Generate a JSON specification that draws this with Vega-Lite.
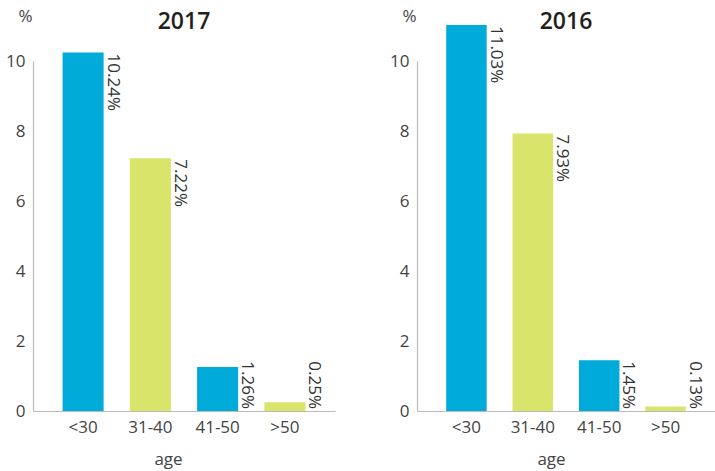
{
  "$schema": "https://vega.github.io/schema/vega-lite/v6.json",
  "padding": {"left": 5, "top": 7, "right": 0, "bottom": 10},
  "background": "white",
  "data": {"values": [
    {"year": "2017", "age": "<30", "pct": 10.24},
    {"year": "2017", "age": "31-40", "pct": 7.22},
    {"year": "2017", "age": "41-50", "pct": 1.26},
    {"year": "2017", "age": ">50", "pct": 0.25},
    {"year": "2016", "age": "<30", "pct": 11.03},
    {"year": "2016", "age": "31-40", "pct": 7.93},
    {"year": "2016", "age": "41-50", "pct": 1.45},
    {"year": "2016", "age": ">50", "pct": 0.13}
  ]},
  "spacing": 54,
  "hconcat": [
    {
      "title": {"text": "2017"},
      "width": 302, "height": 350,
      "transform": [{"filter": "datum.year == '2017'"}, {"calculate": "format(datum.pct, '.2f') + '%'", "as": "label"}],
      "encoding": {
        "x": {"field": "age", "type": "nominal", "sort": ["<30", "31-40", "41-50", ">50"], "scale": {"paddingInner": 0.39, "paddingOuter": 0.44}, "axis": {"title": "age", "labelAngle": 0, "titleX": 135}},
        "y": {"field": "pct", "type": "quantitative", "scale": {"domain": [0, 10], "nice": false}, "axis": {"title": "%", "values": [0, 2, 4, 6, 8, 10]}}
      },
      "layer": [
        {"mark": {"type": "bar"}, "encoding": {"color": {"field": "age", "type": "nominal", "scale": {"domain": ["<30", "31-40", "41-50", ">50"], "range": ["#00aad9", "#d9e46b", "#00aad9", "#d9e46b"]}, "legend": null}}},
        {"transform": [{"filter": "datum.pct >= 2"}],
         "mark": {"type": "text", "angle": 90, "align": "left", "baseline": "bottom", "fontSize": 17, "font": "Open Sans", "color": "#333", "dx": 1},
         "encoding": {"x": {"field": "age", "type": "nominal", "sort": ["<30", "31-40", "41-50", ">50"], "bandPosition": 1}, "text": {"field": "label"}}},
        {"transform": [{"filter": "datum.pct < 2"}],
         "mark": {"type": "text", "angle": 90, "align": "right", "baseline": "bottom", "fontSize": 17, "font": "Open Sans", "color": "#333", "dx": -2},
         "encoding": {"x": {"field": "age", "type": "nominal", "sort": ["<30", "31-40", "41-50", ">50"], "bandPosition": 1}, "y": {"datum": 0}, "text": {"field": "label"}}}
      ]
    },
    {
      "title": {"text": "2016"},
      "width": 298, "height": 350,
      "transform": [{"filter": "datum.year == '2016'"}, {"calculate": "format(datum.pct, '.2f') + '%'", "as": "label"}],
      "encoding": {
        "x": {"field": "age", "type": "nominal", "sort": ["<30", "31-40", "41-50", ">50"], "scale": {"paddingInner": 0.39, "paddingOuter": 0.44}, "axis": {"title": "age", "labelAngle": 0, "titleX": 134}},
        "y": {"field": "pct", "type": "quantitative", "scale": {"domain": [0, 10], "nice": false}, "axis": {"title": "%", "values": [0, 2, 4, 6, 8, 10]}}
      },
      "layer": [
        {"mark": {"type": "bar"}, "encoding": {"color": {"field": "age", "type": "nominal", "scale": {"domain": ["<30", "31-40", "41-50", ">50"], "range": ["#00aad9", "#d9e46b", "#00aad9", "#d9e46b"]}, "legend": null}}},
        {"transform": [{"filter": "datum.pct >= 2"}],
         "mark": {"type": "text", "angle": 90, "align": "left", "baseline": "bottom", "fontSize": 17, "font": "Open Sans", "color": "#333", "dx": 1},
         "encoding": {"x": {"field": "age", "type": "nominal", "sort": ["<30", "31-40", "41-50", ">50"], "bandPosition": 1}, "text": {"field": "label"}}},
        {"transform": [{"filter": "datum.pct < 2"}],
         "mark": {"type": "text", "angle": 90, "align": "right", "baseline": "bottom", "fontSize": 17, "font": "Open Sans", "color": "#333", "dx": -2},
         "encoding": {"x": {"field": "age", "type": "nominal", "sort": ["<30", "31-40", "41-50", ">50"], "bandPosition": 1}, "y": {"datum": 0}, "text": {"field": "label"}}}
      ]
    }
  ],
  "resolve": {"scale": {"color": "independent"}},
  "config": {
    "view": {"stroke": null},
    "font": "Open Sans",
    "title": {"fontSize": 23, "fontWeight": 600, "color": "#231f20", "anchor": "middle", "offset": -27},
    "axis": {"grid": false, "ticks": false, "domainColor": "#bbbbbb", "domainWidth": 1.2, "labelFontSize": 17, "labelColor": "#444", "labelFont": "Open Sans", "titleFont": "Open Sans", "titleFontSize": 17, "titleFontWeight": "normal", "titleColor": "#444"},
    "axisY": {"labelPadding": 8, "titleAngle": 0, "titleAlign": "center", "titleBaseline": "bottom", "titleX": -8, "titleY": -36},
    "axisX": {"labelPadding": 8, "titlePadding": 16, "titleAlign": "center", "titleAnchor": null}
  }
}
